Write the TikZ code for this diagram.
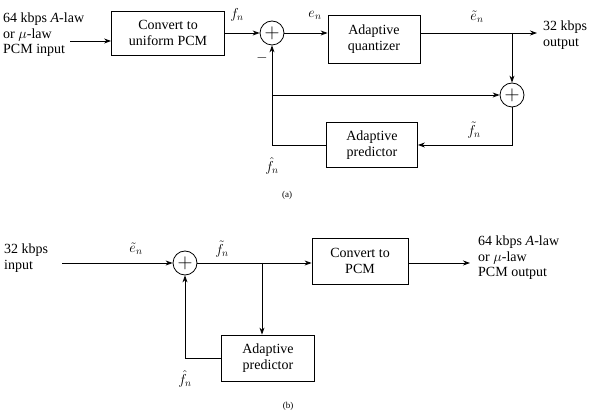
\documentclass[tikz,border=0pt]{standalone}
\usepackage{fontspec}
\setmainfont{Liberation Serif}
\usetikzlibrary{arrows.meta}
\begin{document}
\begin{tikzpicture}[x=1pt,y=-1pt,
    box/.style={draw,thick,align=center,inner sep=0pt},
    sum/.style={draw,thick,circle,minimum size=24pt,inner sep=0pt,font=\fontsize{20}{20}\selectfont},
    lbl/.style={align=left,inner sep=0pt},
    con/.style={thick,-{Stealth[length=7pt,width=5pt]}},
    every node/.style={font=\fontsize{14}{15.5}\selectfont}]
  \useasboundingbox (0,0) rectangle (602,419);
  % (a) encoder
  \node[lbl,anchor=west] (ina) at (3,35) {64 kbps \emph{A}-law\\or $\mu$-law\\PCM input};
  \node[box,minimum width=113pt,minimum height=44pt] (conv) at (168,33) {Convert to\\uniform PCM};
  \node[sum] (s1) at (272,33) {$+$};
  \node[box,minimum width=92pt,minimum height=48pt] (quant) at (374,39) {Adaptive\\quantizer};
  \node[lbl,anchor=west] (outa) at (543,35) {32 kbps\\output};
  \node[sum] (s2) at (512,95) {$+$};
  \node[box,minimum width=91pt,minimum height=45pt] (pred) at (372,145) {Adaptive\\predictor};
  \coordinate (tap) at (512,33);
  \coordinate (oend) at (537,33);
  \coordinate (c1) at (512,145);
  \coordinate (c2) at (272,145);
  \coordinate (c3) at (272,95);
  \coordinate (ia) at (70,41);
  \draw[con] (ia) -- (conv.west |- ia);
  \draw[con] (conv.east |- s1) -- (s1);
  \draw[con] (s1) -- (quant.west |- s1);
  \draw[con] (quant.east |- s1) -- (oend);
  \draw[con] (tap) -- (s2);
  \draw[con] (s2) -- (c1) -- (pred.east |- c1);
  \draw[con] (pred.west |- c2) -- (c2) -- (s1);
  \draw[con] (c3) -- (s2);
  \node at (237,15) {$f_n$};
  \node at (315,15) {$e_n$};
  \node at (477,17) {$\tilde e_n$};
  \node at (474,130) {$\tilde f_n$};
  \node at (272,166) {$\hat f_n$};
  \node at (262,58) {$-$};
  \node[font=\small] at (287,195) {(a)};
  % (b) decoder
  \node[lbl,anchor=west] (inb) at (4,258) {32 kbps\\input};
  \node[sum] (s3) at (185,263) {$+$};
  \node[box,minimum width=96pt,minimum height=46pt] (convb) at (360,261) {Convert to\\PCM};
  \node[lbl,anchor=west] (outb) at (478,258) {64 kbps \emph{A}-law\\or $\mu$-law\\PCM output};
  \node[box,minimum width=93pt,minimum height=46pt] (predb) at (268,358) {Adaptive\\predictor};
  \coordinate (tapb) at (262,263);
  \coordinate (d1) at (185,358);
  \draw[con] (62,263) -- (s3);
  \draw[con] (s3) -- (convb.west |- s3);
  \draw[con] (convb.east |- s3) -- (470,263);
  \draw[con] (tapb) -- (predb.north -| tapb);
  \draw[con] (predb.west |- d1) -- (d1) -- (s3);
  \node at (136,249) {$\tilde e_n$};
  \node at (222,249) {$\tilde f_n$};
  \node at (185,379) {$\hat f_n$};
  \node[font=\small] at (288,406) {(b)};
\end{tikzpicture}
\end{document}
